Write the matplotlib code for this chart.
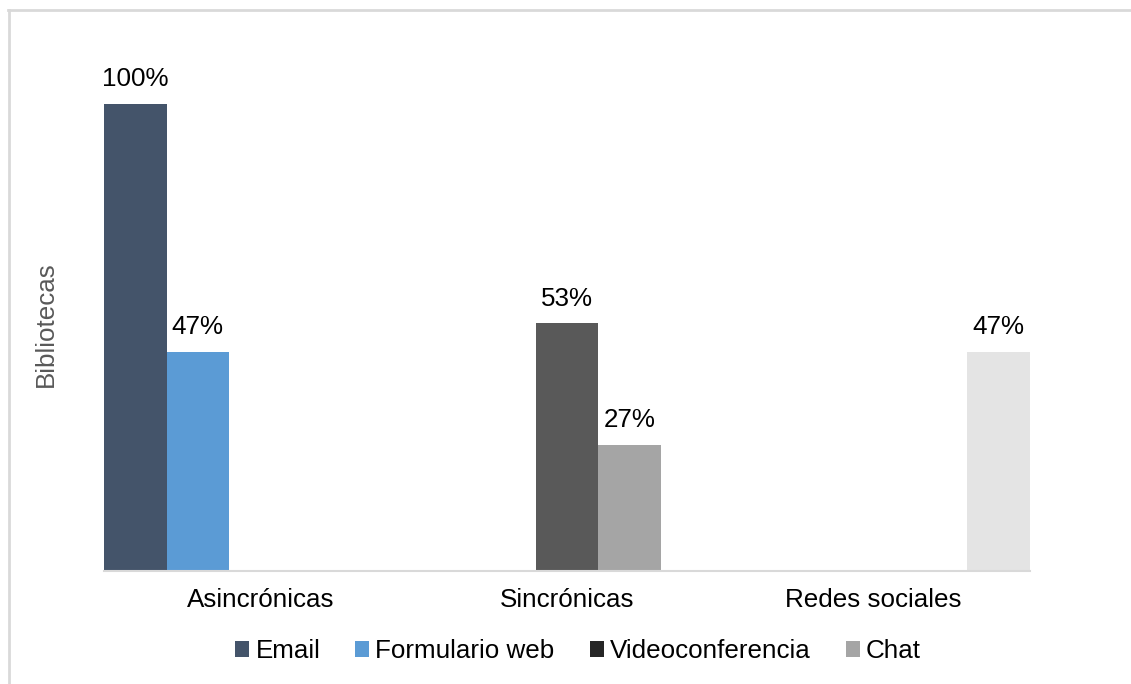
import matplotlib.pyplot as plt
from matplotlib.patches import Patch
from matplotlib.lines import Line2D

plt.rcParams['font.family'] = ['Liberation Sans', 'DejaVu Sans']

# data
categories = ['Asincrónicas', 'Sincrónicas', 'Redes sociales']
series = ['Email', 'Formulario web', 'Videoconferencia', 'Chat', 'Redes']
values = {
    'Email': [100, 0, 0],
    'Formulario web': [47, 0, 0],
    'Videoconferencia': [0, 53, 0],
    'Chat': [0, 27, 0],
    'Redes': [0, 0, 47],
}
colors = ['#44546A', '#5B9BD5', '#595959', '#A5A5A5', '#E4E4E4']
legend_colors = ['#44546A', '#5B9BD5', '#262626', '#A5A5A5']

fs = 18.7
fig = plt.figure(figsize=(11.31, 6.84), dpi=100)
ax = fig.add_axes([104/1131, (684-571)/684, (1030-104)/1131, (571-104)/684])

w = 0.204
for j, s in enumerate(series):
    for i, v in enumerate(values[s]):
        if v == 0:
            continue
        x = i + (j - 2) * w
        ax.bar(x, v, width=w, color=colors[j])
        ax.annotate(f'{v}%', (x, v), xytext=(0, 9), textcoords='offset points',
                    ha='center', va='bottom', fontsize=fs, color='black')

ax.set_xlim(-0.51, 2.51)
ax.set_ylim(0, 100)
ax.set_xticks(range(len(categories)))
ax.set_xticklabels(categories, fontsize=fs)
ax.tick_params(axis='x', length=0, pad=12)
ax.set_yticks([])
for sp in ['top', 'right', 'left']:
    ax.spines[sp].set_visible(False)
ax.spines['bottom'].set_color('#D9D9D9')
ax.spines['bottom'].set_linewidth(1.5)

fig.text(46/1131, 1 - 324/684, 'Bibliotecas', rotation=90, ha='center', va='center',
         fontsize=fs, color='#595959')

handles = [Patch(facecolor=c) for c in legend_colors]
fig.legend(handles, series[:4], loc='center', bbox_to_anchor=(578/1131, 1 - 651/684),
           ncol=4, frameon=False, fontsize=fs, handlelength=0.54, handleheight=0.54,
           handletextpad=0.23, columnspacing=1.35)

# chart border (top and left visible)
fig.add_artist(Line2D([8/1131, 1], [1 - 10/684, 1 - 10/684], color='#D9D9D9', lw=2,
                      transform=fig.transFigure))
fig.add_artist(Line2D([9/1131, 9/1131], [0, 1 - 10/684], color='#D9D9D9', lw=2,
                      transform=fig.transFigure))

fig.savefig('out.png', dpi=100)
